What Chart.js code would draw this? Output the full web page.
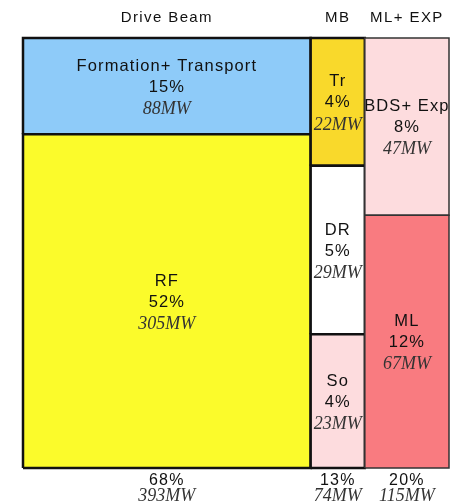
<!DOCTYPE html>
<html>
<head>
<meta charset="utf-8">
<script src="https://cdn.jsdelivr.net/npm/chart.js@4.4.1/dist/chart.umd.min.js"></script>
<style>
  html, body { margin: 0; padding: 0; background: #fff; }
  #wrap { width: 456px; height: 502px; }
</style>
</head>
<body>
<div id="wrap"><canvas id="power-chart"></canvas></div>
<script>
// column groups (x extent = MW)
const groups = ['Drive Beam', 'MB', 'ML+ EXP'];
const groupPct = [68, 13, 20];
const groupMW = [393, 74, 115];

// cells, listed top to bottom inside each group
const cellGroup = [0, 0, 1, 1, 1, 2, 2];
const cellNames = ['Formation+ Transport', 'RF', 'Tr', 'DR', 'So', 'BDS+ Exp', 'ML'];
const cellPct = [15, 52, 4, 5, 4, 8, 12];
const cellMW = [88, 305, 22, 29, 23, 47, 67];
const cellColors = ['#8ecbf9', '#fbfb2b', '#f9d92b', '#ffffff', '#fddcde', '#fddcde', '#f97b80'];

const SANS = '"Liberation Sans", Arial, sans-serif';
const SERIF = '"Liberation Serif", "Times New Roman", serif';

// build rectangles from the values (heights share of the column)
const rects = [];
let xStart = 0;
groups.forEach((g, gi) => {
  const colSum = cellMW.reduce((s, v, i) => s + (cellGroup[i] === gi ? v : 0), 0);
  let top = 1;
  cellGroup.forEach((cg, ci) => {
    if (cg !== gi) return;
    const h = cellMW[ci] / colSum;
    rects.push({ ci, gi, x0: xStart, x1: xStart + groupMW[gi], y0: Math.max(0, top - h), y1: top });
    top -= h;
  });
  xStart += groupMW[gi];
});

// draw the right column first so the black borders stay on top
const datasets = rects.slice().reverse().map(r => ({
  label: cellNames[r.ci],
  data: [
    { x: r.x0, y: r.y0 }, { x: r.x1, y: r.y0 },
    { x: r.x1, y: r.y1 }, { x: r.x0, y: r.y1 }, { x: r.x0, y: r.y0 }
  ],
  showLine: true,
  fill: 'shape',
  backgroundColor: cellColors[r.ci],
  borderColor: r.gi === 2 ? '#333' : '#111',
  borderWidth: r.gi === 2 ? 1.5 : 2.5,
  pointRadius: 0,
  pointHoverRadius: 0,
  tension: 0,
  clip: false
}));

const drawText = (ctx, text, x, y, font, spacing) => {
  ctx.font = font;
  ctx.letterSpacing = spacing;
  ctx.fillText(text, x, y);
};

const labelsPlugin = {
  id: 'cellLabels',
  afterDatasetsDraw(chart) {
    const { ctx, chartArea } = chart;
    const xs = chart.scales.x, ys = chart.scales.y;
    ctx.save();
    ctx.textAlign = 'center';
    ctx.textBaseline = 'middle';
    rects.forEach(r => {
      const cx = xs.getPixelForValue((r.x0 + r.x1) / 2);
      const cy = ys.getPixelForValue((r.y0 + r.y1) / 2);
      ctx.fillStyle = '#111';
      drawText(ctx, cellNames[r.ci], cx, cy - 20, '16.5px ' + SANS, '1.1px');
      drawText(ctx, cellPct[r.ci] + '%', cx, cy + 1, '16.5px ' + SANS, '1.1px');
      ctx.fillStyle = '#333';
      drawText(ctx, cellMW[r.ci] + 'MW', cx, cy + 23, 'italic 18px ' + SERIF, '0px');
    });
    let acc = 0;
    groups.forEach((g, gi) => {
      const cx = xs.getPixelForValue(acc + groupMW[gi] / 2);
      acc += groupMW[gi];
      ctx.fillStyle = '#111';
      drawText(ctx, g, cx, chartArea.top - 20, '15px ' + SANS, '1.4px');
      drawText(ctx, groupPct[gi] + '%', cx, chartArea.bottom + 13, '16px ' + SANS, '1.2px');
      ctx.fillStyle = '#333';
      drawText(ctx, groupMW[gi] + 'MW', cx, chartArea.bottom + 28, 'italic 18px ' + SERIF, '0px');
    });
    ctx.restore();
  }
};

new Chart(document.getElementById('power-chart'), {
  type: 'scatter',
  data: { datasets },
  options: {
    responsive: true,
    maintainAspectRatio: false,
    animation: false,
    layout: { padding: { left: 23, right: 7, top: 38, bottom: 34 } },
    scales: {
      x: { type: 'linear', min: 0, max: 582, display: false },
      y: { type: 'linear', min: 0, max: 1, display: false }
    },
    plugins: { legend: { display: false }, tooltip: { enabled: false } }
  },
  plugins: [labelsPlugin]
});
</script>
</body>
</html>
